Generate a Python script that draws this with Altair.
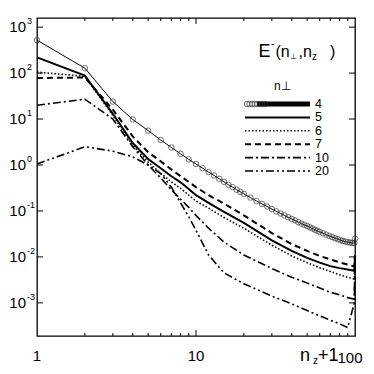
import altair as alt
import pandas as pd
import numpy as np

# ---- data ----
nz1_n4 = [1, 2, 3, 4, 5, 6, 7, 8, 9, 10, 11, 12, 13, 14, 15, 16, 17, 18, 19, 20,
          22, 24, 26, 28, 30, 32, 34, 36, 38, 40, 42, 44, 46, 48, 50, 52, 54, 56, 58, 60,
          63, 66, 69, 72, 75, 78, 81, 84, 87, 90, 93, 96, 99, 100]
E_n4 = [520, 128, 24, 9.8, 5.6, 3.5, 2.4, 1.75, 1.33, 1.05, 0.85, 0.70, 0.59, 0.50, 0.43, 0.37,
        0.33, 0.29, 0.26, 0.235,
        0.195, 0.165, 0.142, 0.125, 0.11, 0.098, 0.088, 0.080, 0.073, 0.067, 0.062, 0.057, 0.053,
        0.050, 0.047, 0.044, 0.0415, 0.039, 0.037, 0.035,
        0.0325, 0.0305, 0.0285, 0.027, 0.0255, 0.0243, 0.0232, 0.0222, 0.0215, 0.021, 0.0205,
        0.0202, 0.020, 0.025]

nz1 = [1, 2, 3, 4, 5, 6, 7, 8, 9, 10, 12, 15, 20, 30, 40, 50, 60, 70, 80, 90, 99, 100]
E_n5 = [220, 88, 13, 3.0, 1.35, 0.85, 0.57, 0.42, 0.30, 0.22, 0.15, 0.095, 0.055, 0.023,
        0.0135, 0.0095, 0.0075, 0.0063, 0.0057, 0.0053, 0.0050, 0.011]
E_n6 = [105, 85, 12, 2.7, 1.15, 0.66, 0.43, 0.31, 0.22, 0.165, 0.115, 0.072, 0.042, 0.018,
        0.0105, 0.0075, 0.0058, 0.0048, 0.0041, 0.0036, 0.0033, 0.010]
E_n7 = [78, 80, 16, 4.2, 1.9, 1.2, 0.80, 0.57, 0.43, 0.33, 0.22, 0.145, 0.080, 0.033,
        0.019, 0.0135, 0.0105, 0.0088, 0.0076, 0.0068, 0.0062, 0.011]
E_n10 = [20, 27, 10, 2.5, 1.0, 0.52, 0.29, 0.18, 0.12, 0.08, 0.042, 0.021, 0.011, 0.0056,
         0.0036, 0.0027, 0.0021, 0.0017, 0.0015, 0.0013, 0.0012, 0.010]
E_n20 = [1.05, 2.5, 2.0, 1.5, 1.0, 0.65, 0.33, 0.15, 0.075, 0.038, 0.011, 0.0045, 0.0026,
         0.0014, 0.00095, 0.00068, 0.00052, 0.00042, 0.00035, 0.00029, 0.0010, 0.010]

series_labels = ["4", "5", "6", "7", "10", "20"]

x_major = [10]
x_minor = [2, 3, 4, 5, 6, 7, 8, 9, 20, 30, 40, 50, 60, 70, 80, 90]
x_tick_labels = [1, 10]
y_ticks = [1e-3, 1e-2, 1e-1, 1, 10, 100, 1000]
y_exps = ["-3", "-2", "-1", "0", "1", "2", "3"]

W = H = 318
FONT = "Liberation Sans"

x_scale = alt.Scale(type="log", domain=[1, 100], nice=False)
y_scale = alt.Scale(type="log", domain=[1.9e-4, 1.58e3], nice=False)

X = lambda f: alt.X(f, scale=x_scale, axis=None)
Y = lambda f: alt.Y(f, scale=y_scale, axis=None)

layers = []

# curves
styles = {
    "5": dict(strokeWidth=2.0),
    "6": dict(strokeWidth=1.6, strokeDash=[1.5, 2]),
    "7": dict(strokeWidth=2.0, strokeDash=[6, 4]),
    "10": dict(strokeWidth=1.6, strokeDash=[8, 3, 2, 3]),
    "20": dict(strokeWidth=1.6, strokeDash=[8, 3, 2, 3, 2, 3]),
}
series_vals = {"5": E_n5, "6": E_n6, "7": E_n7, "10": E_n10, "20": E_n20}

df4 = pd.DataFrame({"x": nz1_n4, "E": E_n4})
layers.append(alt.Chart(df4).mark_line(color="black", strokeWidth=1).encode(x=X("x:Q"), y=Y("E:Q")))
layers.append(alt.Chart(df4).mark_point(shape="circle", filled=False, size=30, color="#333",
                                        strokeWidth=1).encode(x=X("x:Q"), y=Y("E:Q")))
for lab, vals in series_vals.items():
    d = pd.DataFrame({"x": nz1, "E": vals})
    layers.append(alt.Chart(d).mark_line(color="black", **styles[lab]).encode(x=X("x:Q"), y=Y("E:Q")))

# ticks (inward, on all four sides)
dmaj = pd.DataFrame({"v": x_major})
dmin = pd.DataFrame({"v": x_minor})
dy = pd.DataFrame({"v": y_ticks, "e": y_exps})
layers.append(alt.Chart(dmaj).mark_rule(color="black").encode(x=X("v:Q"), y=alt.value(H), y2=alt.value(H - 6)))
layers.append(alt.Chart(dmaj).mark_rule(color="black").encode(x=X("v:Q"), y=alt.value(0), y2=alt.value(6)))
layers.append(alt.Chart(dmin).mark_rule(color="black").encode(x=X("v:Q"), y=alt.value(H), y2=alt.value(H - 3)))
layers.append(alt.Chart(dmin).mark_rule(color="black").encode(x=X("v:Q"), y=alt.value(0), y2=alt.value(3)))
layers.append(alt.Chart(dy).mark_rule(color="black").encode(y=Y("v:Q"), x=alt.value(0), x2=alt.value(6)))
layers.append(alt.Chart(dy).mark_rule(color="black").encode(y=Y("v:Q"), x=alt.value(W), x2=alt.value(W - 6)))

# y tick labels 10^k
layers.append(alt.Chart(dy).mark_text(text="10", font=FONT, fontSize=15, align="right", baseline="middle")
              .encode(y=Y("v:Q"), x=alt.value(-11)))
layers.append(alt.Chart(dy).mark_text(font=FONT, fontSize=9, align="left", baseline="middle", dy=-6)
              .encode(y=Y("v:Q"), x=alt.value(-10), text="e:N"))

# x tick labels
dxl = pd.DataFrame({"v": x_tick_labels})
layers.append(alt.Chart(dxl).mark_text(font=FONT, fontSize=15, align="center", baseline="alphabetic")
              .encode(x=X("v:Q"), y=alt.value(H + 25), text="v:N"))
d100 = pd.DataFrame({"v": [100]})
layers.append(alt.Chart(d100).mark_text(font=FONT, fontSize=15, align="center", baseline="alphabetic", dx=-5)
              .encode(x=X("v:Q"), y=alt.value(H + 27), text="v:N"))

one = pd.DataFrame({"a": [0]})


def txt(s, x, y, size, align="left", baseline="alphabetic"):
    return alt.Chart(one).mark_text(text=s, font=FONT, fontSize=size, align=align, baseline=baseline,
                                    color="black").encode(x=alt.value(x), y=alt.value(y))


# axis title n_z+1
layers += [txt("n", 263, H + 25, 18), txt("z", 276, H + 28, 10), txt("+1", 281, H + 25, 18)]

# legend title E^-(n_perp, n_z)
layers += [txt("E", 221.5, 39, 18), txt("-", 234, 29, 11), txt("(n", 238.5, 39, 16),
           txt("\u22a5", 253, 41, 8), txt(",n", 261.5, 39, 16), txt("z", 275, 42, 10),
           txt(")", 293, 39, 16)]
layers.append(txt("n\u22a5", 237, 72, 12))

# legend entries
leg_x0, leg_x1, leg_y0, leg_dy = 208, 273, 86, 13.4
for i, lab in enumerate(series_labels):
    yy = leg_y0 + i * leg_dy
    layers.append(txt(lab, 278, yy, 12.5, baseline="middle"))
    if lab == "4":
        layers.append(alt.Chart(one).mark_rule(color="black", strokeWidth=5)
                      .encode(x=alt.value(leg_x0 + 12), x2=alt.value(leg_x1), y=alt.value(yy)))
        dots = pd.DataFrame({"px": np.linspace(leg_x0 + 2, leg_x0 + 20, 8)})
        layers.append(alt.Chart(dots).mark_point(shape="circle", filled=False, size=30, color="#333",
                                                 strokeWidth=1)
                      .encode(x=alt.X("px:Q", scale=None), y=alt.value(yy)))
    else:
        layers.append(alt.Chart(one).mark_rule(color="black", **styles[lab])
                      .encode(x=alt.value(leg_x0), x2=alt.value(leg_x1), y=alt.value(yy)))

chart = alt.layer(*layers).properties(
    width=W, height=H, autosize="none",
    padding={"left": 29, "top": 10, "right": 11, "bottom": 30},
).configure_view(stroke="black", strokeWidth=1.3)

chart.save("out.html", embed_options={"renderer": "svg", "actions": False})
